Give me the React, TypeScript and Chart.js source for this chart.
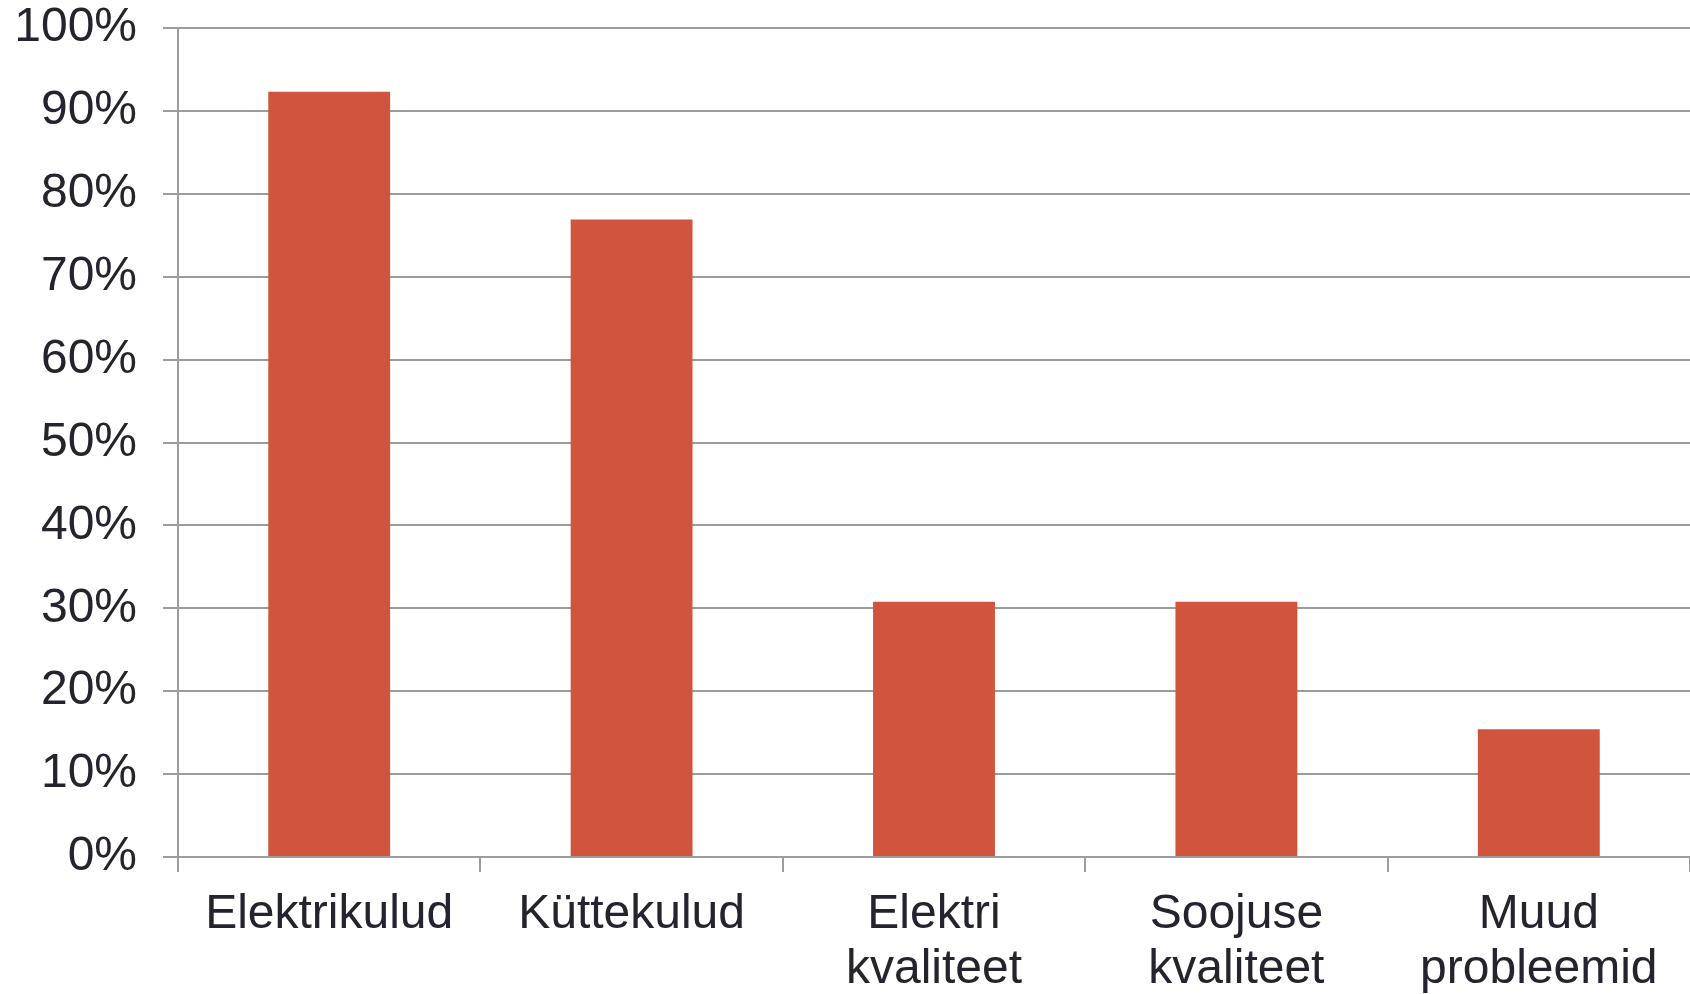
import React, { useEffect, useRef } from "react";
import { Chart, registerables } from "chart.js";

Chart.register(...registerables);

const categories: (string | string[])[] = [
  "Elektrikulud",
  "Küttekulud",
  ["Elektri", "kvaliteet"],
  ["Soojuse", "kvaliteet"],
  ["Muud", "probleemid"],
];
const values: number[] = [92.3, 76.9, 30.8, 30.8, 15.4];
const yTicks: number[] = [0, 10, 20, 30, 40, 50, 60, 70, 80, 90, 100];

const BAR_COLOR = "#d1543d";
const GRID_COLOR = "#9c9c9c";
const TEXT_COLOR = "#24232e";
const FONT = "'Liberation Sans', Arial, Helvetica, sans-serif";

export default function App() {
  const ref = useRef<HTMLCanvasElement | null>(null);

  useEffect(() => {
    document.body.style.margin = "0";
    if (!ref.current) return;
    const chart = new Chart(ref.current, {
      type: "bar",
      data: {
        labels: categories,
        datasets: [
          {
            data: values,
            backgroundColor: BAR_COLOR,
            borderWidth: 0,
            categoryPercentage: 1,
            barPercentage: 0.403,
          },
        ],
      },
      options: {
        animation: false,
        responsive: false,
        devicePixelRatio: 1,
        layout: { padding: { top: 0, left: 0, right: 0, bottom: 0 } },
        plugins: {
          legend: { display: false },
          tooltip: { enabled: false },
        },
        scales: {
          x: {
            offset: true,
            grid: {
              offset: true,
              drawOnChartArea: false,
              drawTicks: true,
              tickLength: 15,
              color: GRID_COLOR,
              lineWidth: 2,
            },
            border: { display: true, color: GRID_COLOR, width: 2 },
            ticks: {
              color: TEXT_COLOR,
              font: { family: FONT, size: 48, lineHeight: 1.13 },
              padding: 16,
              maxRotation: 0,
              autoSkip: false,
            },
            afterFit: (scale: any) => {
              scale.height = 137;
              scale.paddingLeft = 0;
              scale.paddingRight = 0;
            },
          },
          y: {
            min: 0,
            max: 100,
            afterBuildTicks: (scale: any) => {
              scale.ticks = yTicks.map((v) => ({ value: v }));
            },
            grid: {
              color: GRID_COLOR,
              lineWidth: 2,
              drawTicks: true,
              tickLength: 15,
            },
            border: { display: true, color: GRID_COLOR, width: 2 },
            ticks: {
              color: TEXT_COLOR,
              font: { family: FONT, size: 48, lineHeight: 1.17 },
              padding: 26,
              callback: (v: any) => `${v}%`,
            },
            afterFit: (scale: any) => {
              scale.width = 178;
              scale.paddingTop = 28;
              scale.paddingBottom = 0;
            },
          },
        },
      },
    });
    return () => chart.destroy();
  }, []);

  return (
    <div style={{ width: 1690, height: 994, background: "#fff" }}>
      <canvas ref={ref} width={1690} height={994} style={{ display: "block" }} />
    </div>
  );
}
